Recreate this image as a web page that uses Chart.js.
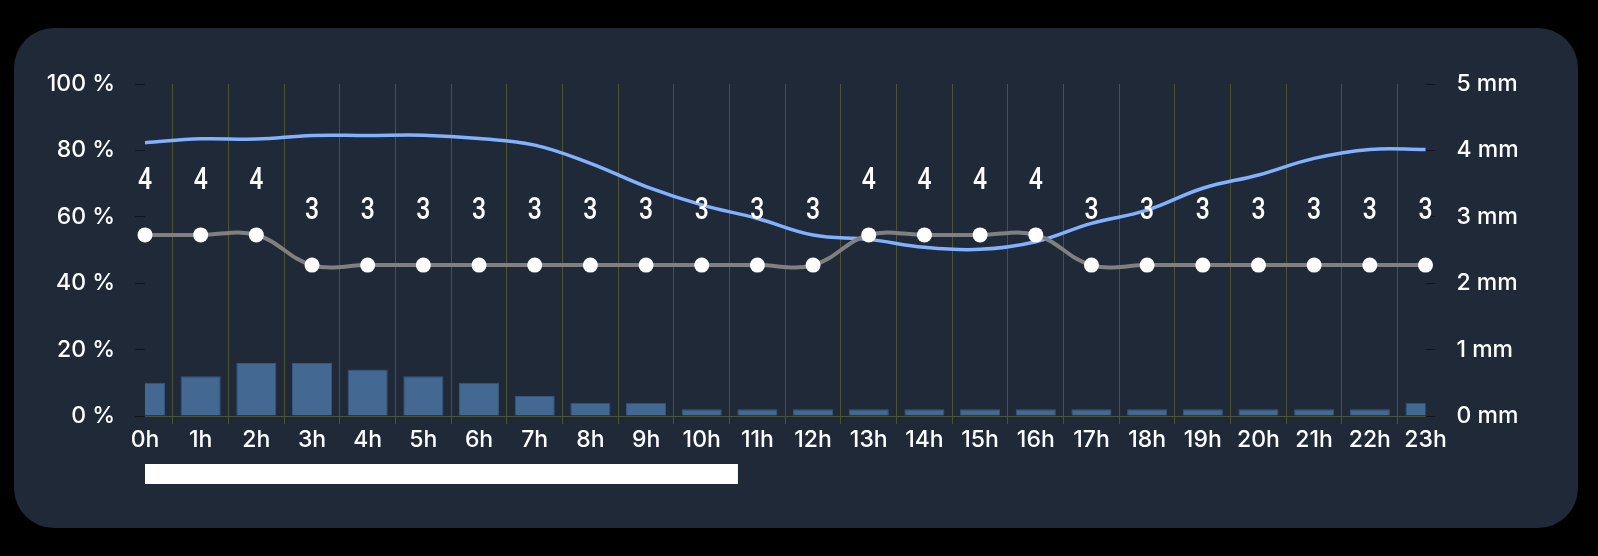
<!DOCTYPE html>
<html><head><meta charset="utf-8">
<script src="https://cdn.jsdelivr.net/npm/chart.js@4/dist/chart.umd.min.js"></script>
<style>
html,body{margin:0;padding:0;background:#000;width:1598px;height:556px;overflow:hidden}
#panel{position:absolute;left:14px;top:28px;width:1564px;height:500px;background:#1f2937;border-radius:40px;}
#c{position:absolute;left:0;top:0;width:1564px;height:500px}
</style></head><body>
<div id="panel"><canvas id="c" width="1564" height="500"></canvas></div>
<script>
const hours = ['0h','1h','2h','3h','4h','5h','6h','7h','8h','9h','10h','11h','12h','13h','14h','15h','16h','17h','18h','19h','20h','21h','22h','23h'];
const humidity = [82.3,83.5,83.4,84.5,84.5,84.6,83.6,81.6,76.1,69.1,63.6,59.5,54.5,53.2,50.8,50.2,52.5,58.0,62.0,68.6,72.6,77.6,80.3,80.3];
const precipitation = [0.5,0.6,0.8,0.8,0.7,0.6,0.5,0.3,0.2,0.2,0.1,0.1,0.1,0.1,0.1,0.1,0.1,0.1,0.1,0.1,0.1,0.1,0.1,0.2];
const levels = [4,4,4,3,3,3,3,3,3,3,3,3,3,4,4,4,4,3,3,3,3,3,3,3];
const percentRange = [0, 100];
const mmRange = [0, 5];
const levelRange = [-2, 9];
const highlightHours = [0, 10.65];

const FONT = 'Inter, "Open Sans", sans-serif';
const GRID = '#4d5434';
const TICKMARK = 'rgba(0,0,0,0.45)';

const levelLabels = {
  id: 'levelLabels',
  afterDatasetsDraw(chart) {
    const meta = chart.getDatasetMeta(1);
    const ctx = chart.ctx;
    const sx = 0.8;
    ctx.save();
    ctx.font = '500 31px Roboto, sans-serif';
    ctx.fillStyle = '#ffffff';
    ctx.textAlign = 'center';
    ctx.textBaseline = 'middle';
    meta.data.forEach((pt, i) => {
      ctx.save();
      ctx.translate(pt.x, pt.y - 54);
      ctx.scale(sx, 1);
      ctx.fillText(String(levels[i]), 0, 0);
      ctx.restore();
    });
    ctx.restore();
  }
};
const highlightBar = {
  id: 'highlightBar',
  afterDraw(chart) {
    const xs = chart.scales.x;
    const x0 = xs.getPixelForValue(highlightHours[0]);
    const x1 = xs.getPixelForValue(highlightHours[1]);
    const ctx = chart.ctx;
    ctx.save();
    ctx.fillStyle = '#ffffff';
    ctx.fillRect(x0, chart.chartArea.bottom + 48, x1 - x0, 20);
    ctx.restore();
  }
};

new Chart(document.getElementById('c'), {
  data: {
    labels: hours,
    datasets: [
      { type: 'line', data: humidity, yAxisID: 'y', borderColor: '#82b1ff', borderWidth: 3.5,
        pointRadius: 0, tension: 0.4, fill: false, order: 2, clip: false },
      { type: 'line', data: levels, yAxisID: 'yLevel', borderColor: '#808080', borderWidth: 4,
        pointRadius: 7.5, pointBackgroundColor: '#ffffff', pointBorderColor: '#ffffff', pointBorderWidth: 0,
        tension: 0.4, fill: false, order: 1, clip: false },
      { type: 'bar', data: precipitation, yAxisID: 'y1', backgroundColor: '#436993',
        borderColor: '#37587e', borderWidth: 1, order: 3 }
    ]
  },
  options: {
    responsive: false,
    animation: false,
    devicePixelRatio: 1,
    layout: { padding: { left: 0, right: 0, top: 56, bottom: 72 } },
    plugins: { legend: { display: false }, tooltip: { enabled: false } },
    scales: {
      x: {
        offset: false,
        grid: { color: (c) => c.index === 0 ? 'rgba(0,0,0,0)' : GRID, tickLength: 8, tickColor: GRID },
        border: { display: true, color: GRID },
        ticks: { color: '#ffffff', font: { family: FONT, size: 23, weight: '500' }, padding: 2, maxRotation: 0, autoSkip: false },
        afterFit: (s) => { s.height = 40; }
      },
      y: {
        position: 'left', min: percentRange[0], max: percentRange[1],
        grid: { drawOnChartArea: false, color: TICKMARK, tickLength: 10 },
        border: { display: false },
        ticks: { stepSize: 20, color: '#ffffff', padding: 20, font: { family: FONT, size: 23, weight: '500' },
          callback: (v) => v + ' %' },
        afterFit: (s) => { s.width = 131; }
      },
      y1: {
        position: 'right', min: mmRange[0], max: mmRange[1],
        grid: { drawOnChartArea: false, color: TICKMARK, tickLength: 10 },
        border: { display: false },
        ticks: { stepSize: 1, color: '#ffffff', padding: 21, font: { family: FONT, size: 23, weight: '500' },
          callback: (v) => v + ' mm' },
        afterFit: (s) => { s.width = 152.5; }
      },
      yLevel: { display: false, min: levelRange[0], max: levelRange[1] }
    }
  },
  plugins: [levelLabels, highlightBar]
});
</script>
</body></html>
